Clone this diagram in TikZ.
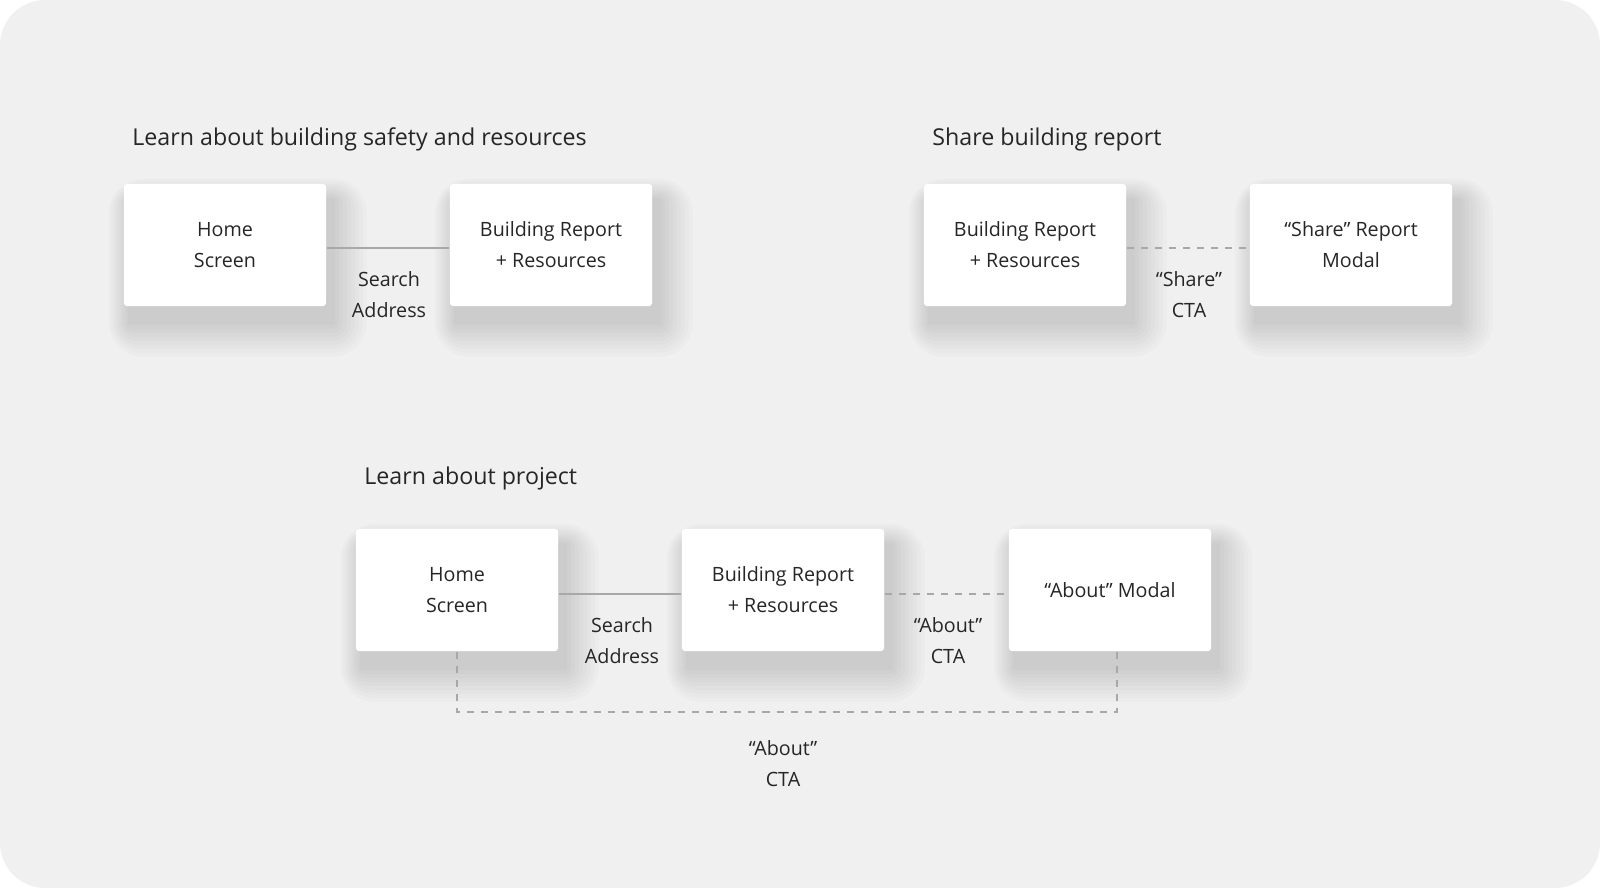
\documentclass[tikz,border=0pt]{standalone}
\usepackage{fontspec}
\setmainfont{Open Sans}
\usetikzlibrary{backgrounds}
\definecolor{bg}{HTML}{F0F0F0}
\definecolor{ln}{HTML}{A8A8A8}
\definecolor{tx}{HTML}{262626}
\begin{document}
\begin{tikzpicture}[x=0.01cm,y=-0.01cm,
  bx/.style={fill=white,rounded corners=0.03cm,minimum width=2.02cm,minimum height=1.22cm,inner sep=0pt,align=center,
    font=\fontsize{5.6pt}{8.8pt}\selectfont,text=tx},
  ttl/.style={anchor=west,font=\fontsize{6.6pt}{9pt}\selectfont,text=tx},
  lab/.style={align=center,font=\fontsize{5.6pt}{8.8pt}\selectfont,text=tx},
  solid line/.style={draw=ln,line width=0.5pt},
  dash line/.style={draw=ln,line width=0.75pt,dash pattern=on 2pt off 2pt}]
\useasboundingbox (0,0) rectangle (1600,888);
\node[ttl] (t1) at (120,139) {Learn about building safety and resources};
\node[ttl] (t2) at (920,139) {Share building report};
\node[ttl] (t3) at (352,478) {Learn about project};
\node[bx] (a1) at (225,245) {Home\\Screen};
\node[bx] (a2) at (551,245) {Building Report\\+ Resources};
\node[bx] (b1) at (1025,245) {Building Report\\+ Resources};
\node[bx] (b2) at (1351,245) {“Share” Report\\Modal};
\node[bx] (c1) at (457,590) {Home\\Screen};
\node[bx] (c2) at (783,590) {Building Report\\+ Resources};
\node[bx] (c3) at (1110,590) {“About” Modal};
\begin{scope}[on background layer]
\fill[white] (0,0) rectangle (1600,888);
\fill[bg,rounded corners=0.45cm] (0,0) rectangle (1600,888);
\foreach \n in {a1,a2,b1,b2,c1,c2,c3}{
  \foreach \r in {34,30,...,2}{
    \fill[black,opacity=0.016,rounded corners=\r*0.01cm]
      ([xshift=-\r*0.006cm+0.06cm,yshift=\r*0.006cm-0.16cm]\n.north west) rectangle
      ([xshift=\r*0.01cm+0.06cm,yshift=-\r*0.01cm-0.16cm]\n.south east);
  }
}
\end{scope}
\coordinate (p1) at (457,712);
\coordinate (p2) at (1117,712);
\draw[solid line] (a1.east |- 0,248) -- (a2.west |- 0,248);
\draw[dash line] (b1.east |- 0,248) -- (b2.west |- 0,248);
\draw[solid line] (c1.east |- 0,594) -- (c2.west |- 0,594);
\draw[dash line] (c2.east |- 0,594) -- (c3.west |- 0,594);
\draw[dash line] (c1.south) -- (p1) -- (p2) -- (p2 |- c3.south);
\node[lab] (l1) at (389,295) {Search\\Address};
\node[lab] (l2) at (1189,295) {“Share”\\CTA};
\node[lab] (l3) at (622,641) {Search\\Address};
\node[lab] (l4) at (948,641) {“About”\\CTA};
\node[lab] (l5) at (783,764) {“About”\\CTA};
\end{tikzpicture}
\end{document}
